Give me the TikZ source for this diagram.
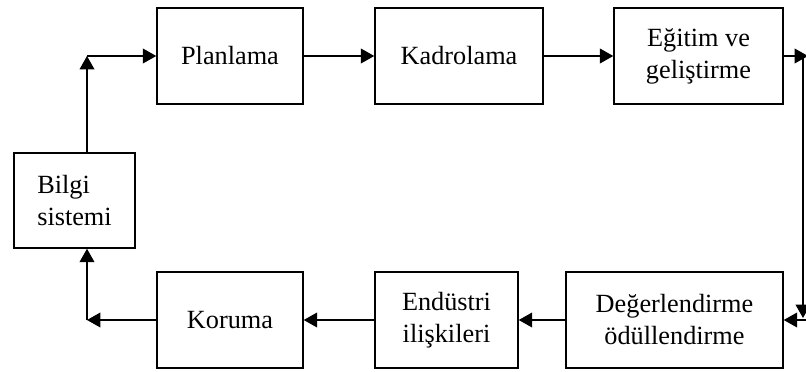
\documentclass[tikz,border=0pt]{standalone}
\usepackage{fontspec}
\setmainfont{Liberation Serif}
\usetikzlibrary{arrows.meta,calc}
\begin{document}
\begin{tikzpicture}[x=0.75pt,y=-0.75pt,
  box/.style={draw, line width=1.1pt, inner sep=0pt, minimum height=72pt,
    align=center, font=\fontsize{19.7}{24}\selectfont},
  arr/.style={line width=1.1pt, -{Triangle[length=10pt,width=11pt]}},
  ln/.style={line width=1.1pt}]
\useasboundingbox (0,0) rectangle (806,371);
\node[box, minimum width=146*0.75pt] (plan) at (230,56) {Planlama};
\node[box, minimum width=168*0.75pt] (kad) at (459,56) {Kadrolama};
\node[box, minimum width=169*0.75pt] (egt) at (698.5,56) {Eğitim ve\\geliştirme};
\node[box, minimum width=146*0.75pt] (kor) at (230,320) {Koruma};
\node[box, minimum width=143*0.75pt] (end) at (446.5,320) {Endüstri\\ilişkileri};
\node[box, minimum width=217*0.75pt] (deg) at (674.5,320) {Değerlendirme\\ödüllendirme};
\node[box, minimum width=121*0.75pt, minimum height=95*0.75pt, align=left] (bil) at (74.5,200.5) {Bilgi\\sistemi};
% top chain
\draw[arr] (plan.east) -- (kad.west);
\draw[arr] (kad.east) -- (egt.west);
% left loop
\coordinate (c1) at (87,56);
\coordinate (c2) at (87,320);
\draw[arr] (bil.north -| c1) -- (c1);
\draw[arr] (c1) -- (plan.west);
\draw[arr] (kor.west) -- (c2);
\draw[arr] (c2) -- (bil.south -| c2);
% bottom chain
\draw[arr] (deg.west) -- (end.east);
\draw[arr] (end.west) -- (kor.east);
% right side (partly cut off)
\coordinate (r1) at (808,56);
\coordinate (r2) at (803,56);
\coordinate (r3) at (803,318);
\coordinate (r4) at (812,320);
\draw[arr] (egt.east) -- (r1);
\draw[arr] (r2) -- (r3);
\draw[arr] (r4) -- (deg.east);
\end{tikzpicture}
\end{document}
